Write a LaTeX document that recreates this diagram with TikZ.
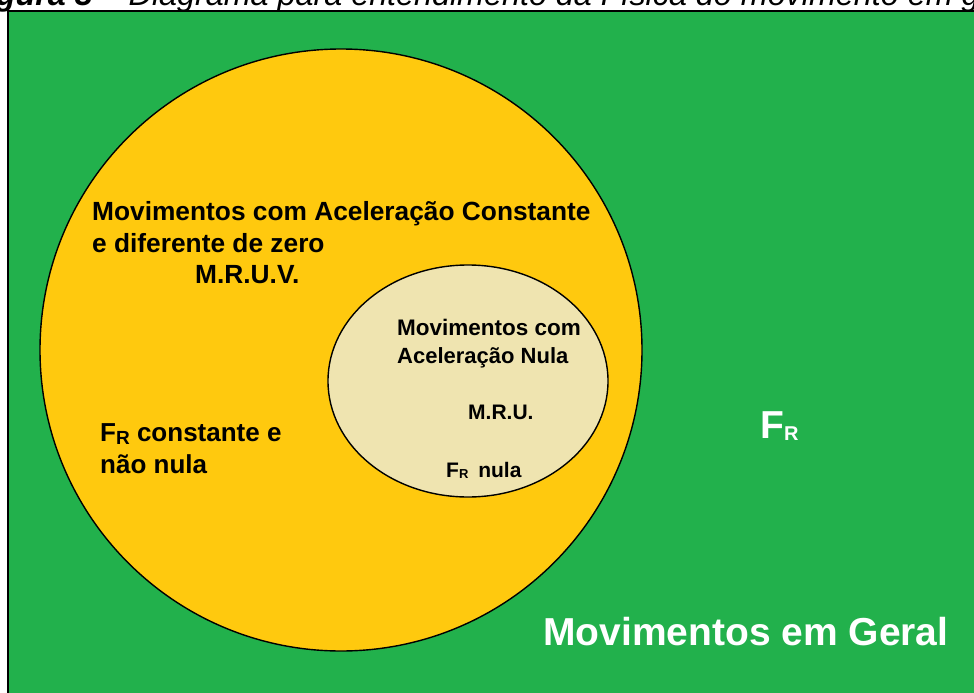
\documentclass[tikz,border=0pt]{standalone}
\usepackage{fontspec}
\setmainfont{Liberation Sans}
\definecolor{pgreen}{RGB}{34,177,76}
\definecolor{pgold}{RGB}{255,201,14}
\definecolor{ptan}{RGB}{239,228,176}
\newcommand{\fsz}[1]{\fontsize{#1}{#1}\selectfont}
\newcommand{\subR}[2]{{\fsz{#1}\raisebox{-#2pt}{R}}}
\tikzset{
  lbl/.style={anchor=base west, inner sep=0pt, font=\bfseries, text=black},
  wlbl/.style={anchor=base west, inner sep=0pt, font=\bfseries, text=white},
}
\begin{document}
\begin{tikzpicture}[x=1pt,y=-1pt]
\useasboundingbox (0,0) rectangle (974,693);
\clip (0,0) rectangle (974,693);
\fill[white] (0,0) rectangle (974,693);
\node[anchor=base west, inner sep=0pt] (cap) at (-33,6) {\fsz{32.3}{\bfseries\itshape Figura 3} \itshape – Diagrama para entendimento da Física do movimento em geral};
\draw[fill=pgreen, line width=1.6pt] (8,11) rectangle (990,710);
\draw[fill=pgold, line width=1.4pt] (341,350) circle[radius=301pt];
\draw[fill=ptan, line width=1.4pt] (468,381) ellipse[x radius=140pt, y radius=116pt];
% outer texts
\node[lbl] (o1) at (92,220) {\fsz{26.3}Movimentos com Aceleração Constante};
\node[lbl] (o2) at (92,252) {\fsz{26.3}e diferente de zero};
\node[lbl] (o3) at (195,283) {\fsz{26.3}M.R.U.V.};
\node[lbl] (o4) at (100,441) {\fsz{26}F\subR{19}{3} constante e};
\node[lbl] (o5) at (100,473) {\fsz{26}não nula};
% inner texts
\node[lbl] (i1) at (397,335) {\fsz{22.5}Movimentos com};
\node[lbl] (i2) at (397,363) {\fsz{22}Aceleração Nula};
\node[lbl] (i3) at (468,419) {\fsz{21}M.R.U.};
\node[lbl] (i4) at (446,477) {\fsz{21}F\subR{13}{1}\hspace{4pt} nula};
% green texts
\node[wlbl] (g1) at (760,438) {\fsz{39}F\subR{20}{2}};
\node[wlbl] (g2) at (543,645) {\fsz{39}Movimentos em Geral};
\end{tikzpicture}
\end{document}
